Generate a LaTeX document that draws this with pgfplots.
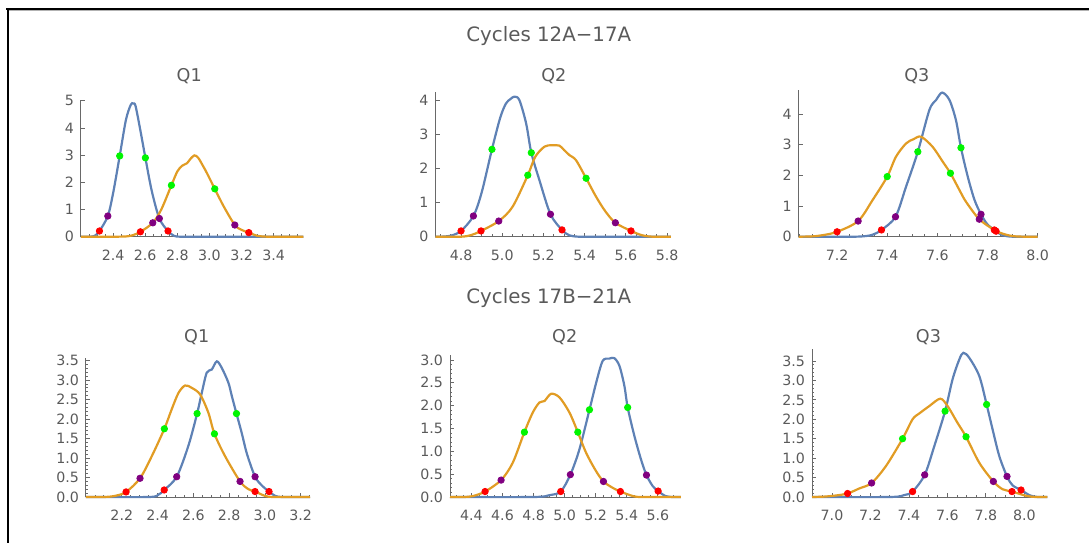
\documentclass[border=0pt]{standalone}
\usepackage{pgfplots}
\pgfplotsset{compat=1.18}
\usepackage{fontspec}
\setmainfont{DejaVu Sans}
\definecolor{mblue}{RGB}{94,129,181}
\definecolor{morange}{RGB}{225,156,36}
\definecolor{mgreen}{RGB}{0,245,0}
\definecolor{mpurple}{RGB}{128,0,128}
\definecolor{mred}{RGB}{255,0,0}
\definecolor{txt}{RGB}{90,90,90}
\definecolor{axc}{RGB}{105,105,105}

\pgfplotsset{
  mma/.style={
    scale only axis, anchor=south west, axis lines*=left, clip=false,
    axis line style={axc, line width=0.5pt},
    every tick/.style={axc, line width=0.4pt},
    tick align=inside,
    major tick length=2pt, minor tick length=1.2pt,
    ymin=0,
    tick label style={font=\fontsize{7.1}{8}\selectfont, text=txt},
    /pgf/number format/assume math mode=true,
    xticklabel style={yshift=-3.1pt, /pgf/number format/.cd, fixed, fixed zerofill, precision=1},
  },
  toprow/.style={mma},
  botrow/.style={mma, minor y tick num=4,
    yticklabel style={/pgf/number format/.cd, fixed, fixed zerofill, precision=1}},
  bl/.style={mblue, line width=1.1pt, smooth},
  ol/.style={morange, line width=1.1pt, smooth},
  dots/.style={#1, only marks, mark=*, mark size=1.6pt, mark options={solid, draw=#1, fill=#1}},
}

\begin{document}
\begin{tikzpicture}
\path[use as bounding box] (0,0) rectangle (544.5pt,271.5pt);
% frame
\draw[black, line width=1pt] (3pt,266.85pt) -- (544.5pt,266.85pt);
\draw[gray!60, line width=0.5pt] (4.5pt,266.1pt) -- (544.5pt,266.1pt);
\draw[black, line width=1.2pt] (4pt,267.3pt) -- (4pt,0pt);

% titles
\node[anchor=base, text=txt, font=\fontsize{9.9}{11}\selectfont] at (274.4pt,251pt) {Cycles 12A−17A};
\node[anchor=base, text=txt, font=\fontsize{9.9}{11}\selectfont] at (274.4pt,120pt) {Cycles 17B−21A};
\foreach \xx/\yy/\tt in {94.6/230.65/Q1, 276.9/230.65/Q2, 458.4/230.65/Q3,
                         98.35/100.5/Q1, 282.35/100.5/Q2, 464.25/100.5/Q3}
  \node[anchor=base, text=txt, font=\fontsize{8.8}{10}\selectfont] at (\xx pt,\yy pt) {\tt};

% ---------- top row ----------
\begin{axis}[toprow, at={(40.5pt,153.15pt)}, width=111.2pt, height=68.4pt,
  xmin=2.2, xmax=3.585, ymax=5.03,
  xtick={2.4,2.6,2.8,3.0,3.2,3.4}, minor xtick={2.25,2.3,...,3.56}, ytick={0,1,2,3,4,5}]
  \addplot[bl] coordinates {(2.2,0)(2.25,0)(2.285,0.03)(2.315,0.21)(2.367,0.76)(2.40,1.6)
    (2.441,2.97)(2.48,4.3)(2.51,4.85)(2.525,4.90)(2.54,4.8)(2.57,3.9)(2.601,2.90)(2.64,1.7)
    (2.688,0.67)(2.742,0.21)(2.78,0.03)(2.82,0)(2.9,0)(3.585,0)};
  \addplot[ol] coordinates {(2.2,0)(2.40,0)(2.48,0.01)(2.52,0.05)(2.570,0.18)(2.647,0.51)
    (2.70,1.0)(2.763,1.89)(2.80,2.4)(2.83,2.61)(2.86,2.70)(2.88,2.85)(2.906,2.99)(2.93,2.9)
    (2.96,2.6)(2.985,2.33)(3.033,1.76)(3.09,1.10)(3.158,0.43)(3.20,0.25)(3.245,0.15)
    (3.30,0.03)(3.36,0)(3.45,0)(3.585,0)};
  \addplot[dots=mred] coordinates {(2.315,0.21)(2.742,0.21)(2.570,0.18)(3.245,0.15)};
  \addplot[dots=mpurple] coordinates {(2.367,0.76)(2.688,0.67)(2.647,0.51)(3.158,0.43)};
  \addplot[dots=mgreen] coordinates {(2.441,2.97)(2.601,2.90)(2.763,1.89)(3.033,1.76)};
\end{axis}

\begin{axis}[toprow, at={(217.75pt,153.15pt)}, width=117.65pt, height=72.4pt,
  xmin=4.676, xmax=5.818, ymax=4.26,
  xtick={4.8,5.0,5.2,5.4,5.6,5.8}, minor xtick={4.7,4.75,...,5.81}, ytick={0,1,2,3,4}]
  \addplot[bl] coordinates {(4.676,0)(4.70,0)(4.75,0.03)(4.80,0.17)(4.860,0.61)(4.90,1.3)
    (4.950,2.57)(4.99,3.5)(5.018,3.92)(5.04,4.05)(5.059,4.12)(5.083,4.02)(5.116,3.33)
    (5.141,2.47)(5.18,1.67)(5.234,0.66)(5.290,0.20)(5.326,0.04)(5.37,0)(5.45,0)(5.818,0)};
  \addplot[ol] coordinates {(4.676,0)(4.80,0)(4.85,0.05)(4.897,0.17)(4.983,0.46)(5.05,0.88)
    (5.124,1.81)(5.16,2.35)(5.205,2.65)(5.24,2.69)(5.277,2.68)(5.30,2.55)(5.326,2.40)
    (5.358,2.25)(5.407,1.72)(5.455,1.18)(5.50,0.75)(5.549,0.41)(5.625,0.17)(5.68,0.04)
    (5.73,0)(5.818,0)};
  \addplot[dots=mred] coordinates {(4.800,0.17)(5.290,0.20)(4.897,0.17)(5.625,0.17)};
  \addplot[dots=mpurple] coordinates {(4.860,0.61)(5.234,0.66)(4.983,0.46)(5.549,0.41)};
  \addplot[dots=mgreen] coordinates {(4.950,2.57)(5.141,2.47)(5.124,1.81)(5.407,1.72)};
\end{axis}

\begin{axis}[toprow, at={(399.35pt,153.15pt)}, width=119.5pt, height=73.3pt,
  xmin=7.047, xmax=8.0, ymax=4.78,
  xtick={7.2,7.4,7.6,7.8,8.0}, minor xtick={7.05,7.1,...,8.01}, ytick={0,1,2,3,4}]
  \addplot[bl] coordinates {(7.047,0)(7.25,0)(7.30,0.01)(7.34,0.06)(7.377,0.22)(7.433,0.65)
    (7.475,1.63)(7.522,2.77)(7.568,4.13)(7.595,4.46)(7.619,4.70)(7.648,4.46)(7.674,3.80)
    (7.694,2.90)(7.721,1.96)(7.748,1.20)(7.774,0.73)(7.80,0.40)(7.834,0.18)(7.86,0.05)
    (7.90,0)(8.0,0)};
  \addplot[ol] coordinates {(7.047,0)(7.10,0.01)(7.143,0.05)(7.200,0.16)(7.284,0.51)(7.342,1.2)
    (7.400,1.96)(7.435,2.61)(7.475,3.04)(7.505,3.18)(7.535,3.26)(7.581,2.93)(7.621,2.45)
    (7.652,2.07)(7.688,1.52)(7.714,1.14)(7.767,0.57)(7.827,0.22)(7.86,0.10)(7.90,0.02)
    (7.95,0)(8.0,0)};
  \addplot[dots=mred] coordinates {(7.377,0.22)(7.834,0.18)(7.200,0.16)(7.827,0.22)};
  \addplot[dots=mpurple] coordinates {(7.433,0.65)(7.774,0.73)(7.284,0.51)(7.767,0.57)};
  \addplot[dots=mgreen] coordinates {(7.522,2.77)(7.694,2.90)(7.400,1.96)(7.652,2.07)};
\end{axis}

% ---------- bottom row ----------
\begin{axis}[botrow, at={(43pt,23pt)}, width=112pt, height=69.4pt,
  xmin=2.0, xmax=3.252, ymax=3.56,
  xtick={2.2,2.4,2.6,2.8,3.0,3.2}, minor xtick={2.05,2.1,...,3.26},
  ytick={0,0.5,1,1.5,2,2.5,3,3.5}]
  \addplot[bl] coordinates {(2.0,0)(2.35,0)(2.405,0.06)(2.437,0.18)(2.507,0.52)(2.572,1.31)
    (2.621,2.14)(2.647,2.67)(2.675,3.19)(2.703,3.27)(2.731,3.48)(2.759,3.31)(2.796,2.93)
    (2.815,2.59)(2.841,2.14)(2.87,1.65)(2.90,1.10)(2.945,0.52)(2.982,0.30)(3.023,0.14)
    (3.057,0.03)(3.10,0)(3.252,0)};
  \addplot[ol] coordinates {(2.0,0)(2.10,0)(2.163,0.03)(2.224,0.13)(2.302,0.48)(2.368,1.05)
    (2.438,1.75)(2.479,2.25)(2.517,2.67)(2.554,2.86)(2.591,2.80)(2.638,2.63)(2.684,2.16)
    (2.718,1.62)(2.777,1.05)(2.861,0.40)(2.908,0.20)(2.945,0.14)(3.00,0.03)(3.05,0)(3.252,0)};
  \addplot[dots=mred] coordinates {(2.224,0.13)(2.945,0.14)(2.437,0.18)(3.023,0.14)};
  \addplot[dots=mpurple] coordinates {(2.302,0.48)(2.861,0.40)(2.507,0.52)(2.945,0.52)};
  \addplot[dots=mgreen] coordinates {(2.438,1.75)(2.718,1.62)(2.621,2.14)(2.841,2.14)};
\end{axis}

\begin{axis}[botrow, at={(225pt,23pt)}, width=115.4pt, height=70.8pt,
  xmin=4.262, xmax=5.748, ymax=3.10,
  xtick={4.4,4.6,4.8,5.0,5.2,5.4,5.6}, minor xtick={4.3,4.35,...,5.75},
  ytick={0,0.5,1,1.5,2,2.5,3}]
  \addplot[bl] coordinates {(4.262,0)(4.80,0)(4.902,0.04)(4.975,0.12)(5.037,0.49)(5.095,1.04)
    (5.160,1.91)(5.203,2.50)(5.245,2.98)(5.288,3.03)(5.32,3.04)(5.353,2.87)(5.385,2.43)
    (5.406,1.96)(5.449,1.34)(5.492,0.82)(5.527,0.48)(5.567,0.24)(5.602,0.13)(5.65,0.02)
    (5.70,0)(5.748,0)};
  \addplot[ol] coordinates {(4.262,0)(4.35,0)(4.409,0.02)(4.488,0.12)(4.591,0.37)(4.666,0.75)
    (4.741,1.42)(4.795,1.85)(4.838,2.07)(4.87,2.10)(4.913,2.26)(4.967,2.18)(5.031,1.85)
    (5.085,1.42)(5.138,0.97)(5.20,0.58)(5.250,0.34)(5.31,0.20)(5.359,0.12)(5.44,0.02)
    (5.50,0)(5.748,0)};
  \addplot[dots=mred] coordinates {(4.488,0.12)(5.359,0.12)(4.975,0.12)(5.602,0.13)};
  \addplot[dots=mpurple] coordinates {(4.591,0.37)(5.250,0.34)(5.037,0.49)(5.527,0.48)};
  \addplot[dots=mgreen] coordinates {(4.741,1.42)(5.085,1.42)(5.160,1.91)(5.406,1.96)};
\end{axis}

\begin{axis}[botrow, at={(406pt,23pt)}, width=117.7pt, height=73.85pt,
  xmin=6.896, xmax=8.12, ymax=3.80,
  xtick={7.0,7.2,7.4,7.6,7.8,8.0}, minor xtick={6.9,6.95,...,8.11},
  ytick={0,0.5,1,1.5,2,2.5,3,3.5}]
  \addplot[bl] coordinates {(6.896,0)(7.30,0)(7.376,0.05)(7.419,0.14)(7.482,0.57)(7.532,1.31)
    (7.588,2.21)(7.627,3.03)(7.662,3.54)(7.683,3.71)(7.714,3.58)(7.766,3.11)(7.804,2.38)
    (7.835,1.74)(7.87,1.05)(7.910,0.53)(7.939,0.30)(7.983,0.18)(8.03,0.04)(8.07,0)(8.12,0)};
  \addplot[ol] coordinates {(6.896,0)(6.96,0.01)(7.021,0.04)(7.081,0.09)(7.142,0.22)(7.206,0.36)
    (7.281,0.80)(7.367,1.50)(7.419,2.0)(7.454,2.15)(7.506,2.34)(7.563,2.53)(7.601,2.34)
    (7.65,1.93)(7.697,1.55)(7.766,0.88)(7.839,0.40)(7.887,0.20)(7.936,0.14)(8.01,0.03)
    (8.06,0)(8.12,0)};
  \addplot[dots=mred] coordinates {(7.081,0.09)(7.936,0.14)(7.419,0.14)(7.983,0.18)};
  \addplot[dots=mpurple] coordinates {(7.206,0.36)(7.839,0.40)(7.482,0.57)(7.910,0.53)};
  \addplot[dots=mgreen] coordinates {(7.367,1.50)(7.697,1.55)(7.588,2.21)(7.804,2.38)};
\end{axis}
\end{tikzpicture}
\end{document}
